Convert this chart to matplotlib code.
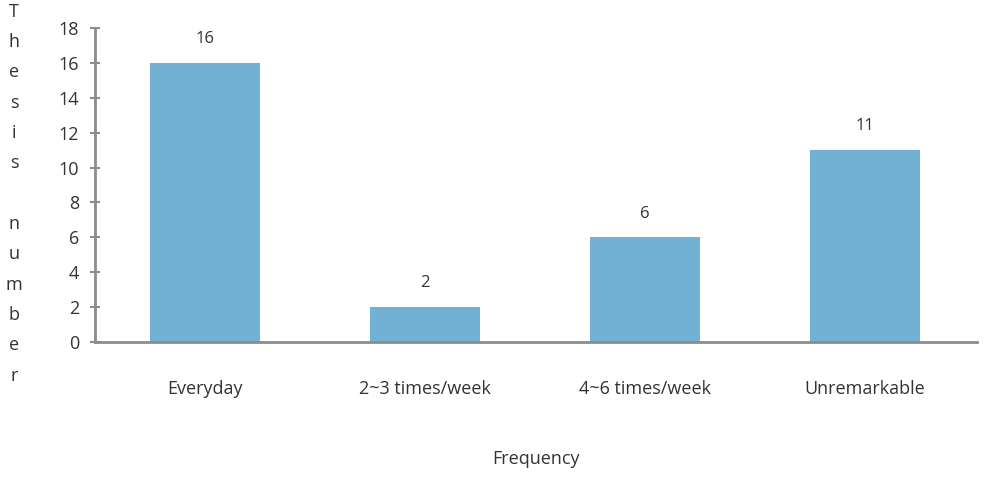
import matplotlib.pyplot as plt

categories = ["Everyday", "2~3 times/week", "4~6 times/week", "Unremarkable"]
counts = [16, 2, 6, 11]
y_ticks = list(range(0, 20, 2))

bar_color = "#72b0d4"
axis_color = "#8c8c8c"
text_color = "#333333"

plt.rcParams["font.family"] = ["Open Sans", "DejaVu Sans"]

fig = plt.figure(figsize=(9.93, 4.78), dpi=100)
ax = fig.add_axes([95 / 993, 136 / 478, 882 / 993, 314 / 478])

x = range(len(categories))
bars = ax.bar(x, counts, width=0.5, color=bar_color, zorder=2)
for xi, v in zip(x, counts):
    ax.text(xi, v + 0.9, str(v), ha="center", va="bottom", fontsize=12, color=text_color)

ax.set_xlim(-0.5, 3.51)
ax.set_ylim(0, 18)
ax.set_yticks(y_ticks)
ax.set_xticks(list(x))
ax.set_xticklabels(categories, fontsize=13, color=text_color)
ax.tick_params(axis="x", length=0, pad=27)
ax.tick_params(axis="y", direction="inout", length=7, width=1.5, color=axis_color,
               labelsize=13, labelcolor=text_color, pad=8)

for side in ["top", "right"]:
    ax.spines[side].set_visible(False)
for side in ["left", "bottom"]:
    ax.spines[side].set_color(axis_color)
    ax.spines[side].set_linewidth(2)

ax.set_xlabel("Frequency", fontsize=13, color=text_color, labelpad=38)

label = "\n".join(list("Thesis number"))
fig.text(14 / 993, 0.595, label, ha="center", va="center", fontsize=13,
         color=text_color, linespacing=1.88)

fig.savefig("out.png", dpi=100)
